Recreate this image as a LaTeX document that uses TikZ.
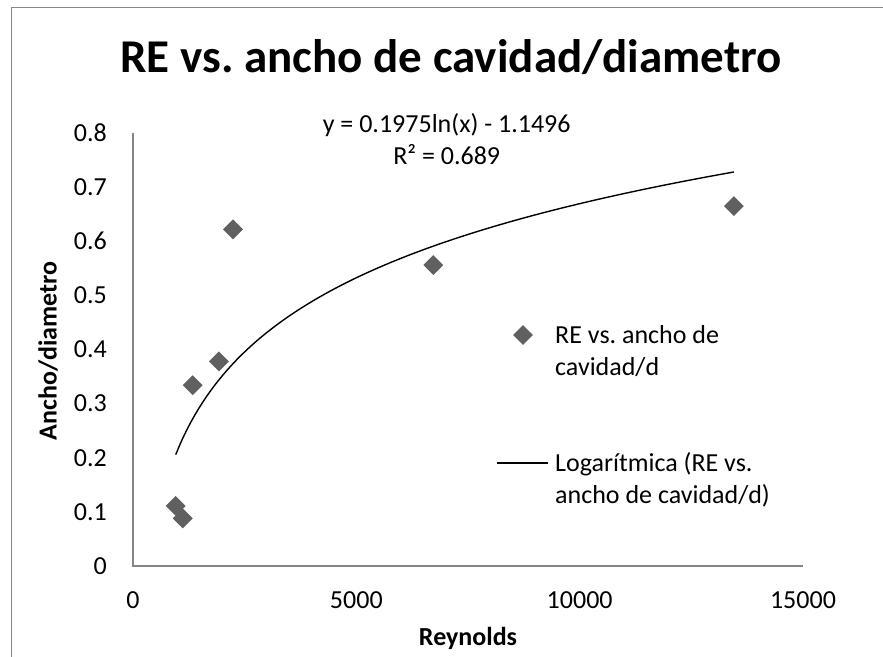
\documentclass[tikz,border=0pt]{standalone}
\usepackage{fontspec}
\setmainfont{Carlito}
\usepackage{tikz}
\usetikzlibrary{positioning, shapes.geometric}
\frenchspacing

\definecolor{ejegris}{HTML}{868686}
\definecolor{puntogris}{HTML}{606060}

\begin{document}
\begin{tikzpicture}[x=1pt, y=1pt,
  eje/.style={draw=ejegris, line width=1.4pt},
  etiqueta/.style={inner sep=0pt, font=\fontsize{26}{32}\selectfont},
  titulo eje/.style={inner sep=0pt, font=\fontsize{26}{32}\selectfont\bfseries},
  punto/.style={diamond, fill=puntogris, minimum size=20pt, inner sep=0pt}]

\useasboundingbox (0,0) rectangle (883,656);

% marco del grafico
\draw[eje] (11.5,-5) -- (11.5,648.7) -- (890,648.7);

\node[inner sep=0pt, anchor=base, font=\fontsize{47}{53}\selectfont\bfseries]
  (titulo) at (451,583.3) {RE vs. ancho de cavidad/diametro};

% ejes
\coordinate (O) at (133,90);
\draw[eje] (133,523) -- (O) -- (803,90);

\foreach \v/\t in {0/0,1/0.1,2/0.2,3/0.3,4/0.4,5/0.5,6/0.6,7/0.7,8/0.8}
  \node[etiqueta, anchor=east] (y\v) at (107,90+\v*54.125) {\t};
\foreach \v/\t in {0/0,1/5000,2/10000,3/15000}
  \node[etiqueta] (x\v) at (133+\v*223.33,56) {\t};

\node[titulo eje] (reynolds) at (468,18) {Reynolds};
\node[titulo eje, rotate=90] (ancho) at (48,305) {Ancho/diametro};

% datos y tendencia
\begin{scope}[shift={(O)}, x=0.044667pt, y=541.25pt]
  \draw[line width=1.4pt] plot[domain=956:13454, samples=120, smooth]
    (\x, {0.1975*ln(\x)-1.1496});
  \foreach \n/\a/\b in {a/956/0.111, b/1113/0.088, c/1336/0.334, d/1925/0.378,
                        e/2239/0.622, f/6723/0.556, g/13454/0.665}
    \node[punto] (\n) at (\a,\b) {};
\end{scope}

\node[etiqueta, align=center] (ecuacion) at (446.7,517)
  {y = 0.1975ln(x) - 1.1496\\R² = 0.689};

% leyenda
\node[punto] (marca) at (523,321) {};
\node[etiqueta, align=left, anchor=west] (serie) at (555,305)
  {RE vs. ancho de\\cavidad/d};
\coordinate (l1) at (497,193);
\coordinate (l2) at (548,193);
\draw[line width=1.4pt] (l1) -- (l2);
\node[etiqueta, align=left, anchor=west] (tendencia) at (555,176)
  {Logarítmica (RE vs.\\ancho de cavidad/d)};

\end{tikzpicture}
\end{document}
